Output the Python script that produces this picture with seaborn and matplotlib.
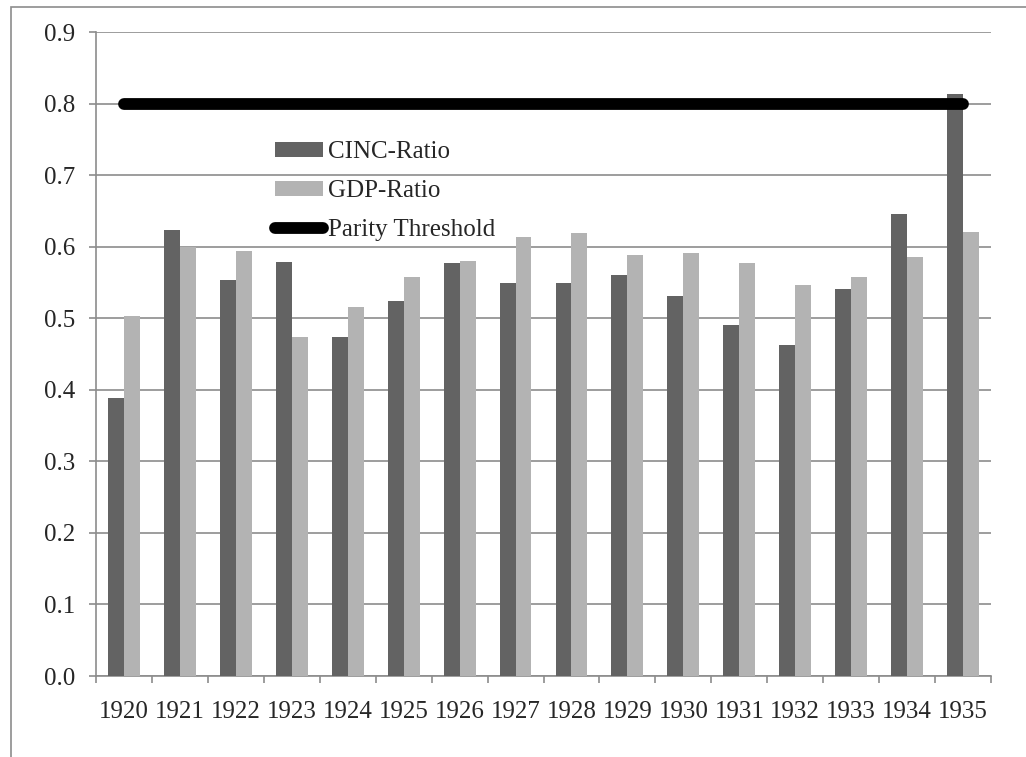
import numpy as np
import pandas as pd
import matplotlib
matplotlib.use('Agg')
import matplotlib.pyplot as plt
from matplotlib.patches import Rectangle
import seaborn as sns

# --- data ---
years = ['1920', '1921', '1922', '1923', '1924', '1925', '1926', '1927',
         '1928', '1929', '1930', '1931', '1932', '1933', '1934', '1935']
cinc_ratio = [0.388, 0.624, 0.554, 0.579, 0.474, 0.524, 0.577, 0.549,
              0.549, 0.561, 0.531, 0.491, 0.463, 0.541, 0.646, 0.814]
gdp_ratio = [0.503, 0.600, 0.594, 0.474, 0.516, 0.557, 0.580, 0.614,
             0.619, 0.589, 0.591, 0.577, 0.547, 0.557, 0.586, 0.621]
parity = [0.8] * len(years)
series_names = ['CINC-Ratio', 'GDP-Ratio']
colors = ['#636363', '#b3b3b3']

df = pd.DataFrame({
    'year': years * 2,
    'value': cinc_ratio + gdp_ratio,
    'series': [series_names[0]] * len(years) + [series_names[1]] * len(years),
})

sns.set_style('white')
plt.rcParams['font.family'] = ['Liberation Serif', 'DejaVu Serif']
FS = 18

fig = plt.figure(figsize=(10.26, 7.57), dpi=100)
ax = fig.add_axes([0.0936, 0.107, 0.8723, 0.8507])

# outer chart frame
fig.patches.append(Rectangle((11 / 1026, -0.1), 1.2, 1.1 - 7 / 757,
                             transform=fig.transFigure, fill=False,
                             edgecolor='#8c8c8c', linewidth=1.2, zorder=0))

sns.barplot(data=df, x='year', y='value', hue='series', palette=colors,
            width=0.57, saturation=1, linewidth=0, ax=ax, zorder=3)
ax.plot(np.arange(len(years)), parity, color='black', linewidth=8.5,
        solid_capstyle='round', label='Parity Threshold', zorder=4)

ax.set_xlim(-0.5, len(years) - 0.5)
ax.set_ylim(0, 0.9)
ax.set_yticks(np.arange(0, 0.91, 0.1))
ax.set_yticklabels([f'{v:.1f}' for v in np.arange(0, 0.91, 0.1)])
ax.yaxis.grid(True, color='#8c8c8c', linewidth=1.2, zorder=0)
ax.set_axisbelow(True)
ax.set_xlabel('')
ax.set_ylabel('')

for side in ['top', 'right']:
    ax.spines[side].set_visible(False)
for side in ['left', 'bottom']:
    ax.spines[side].set_color('#8c8c8c')
    ax.spines[side].set_linewidth(1.2)

ax.tick_params(axis='y', left=True, length=5, width=1.2, color='#8c8c8c',
               pad=10, labelsize=FS)
ax.set_xticks(np.arange(-0.5, len(years), 1.0), minor=True)
ax.tick_params(axis='x', which='major', length=0, pad=18, labelsize=FS)
ax.tick_params(axis='x', which='minor', bottom=True, length=5, width=1.2,
               color='#8c8c8c')

handles, labels = ax.get_legend_handles_labels()
ax.legend(handles, labels, loc='upper left', bbox_to_anchor=(0.2, 0.83),
          frameon=False, fontsize=FS, handlelength=1.9, handleheight=0.5,
          handletextpad=0.2, labelspacing=0.68, borderpad=0, borderaxespad=0)

plt.savefig('out.png', dpi=100)
